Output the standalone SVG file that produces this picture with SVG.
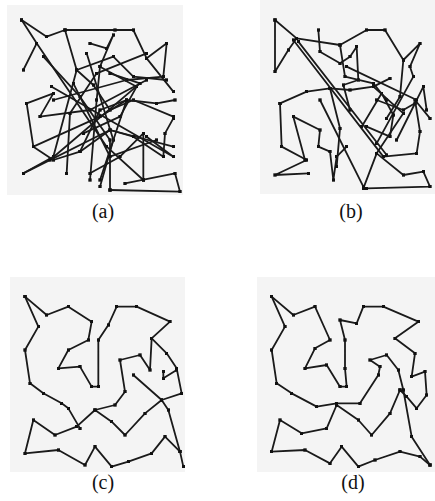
<svg xmlns="http://www.w3.org/2000/svg" width="435" height="501" viewBox="0 0 435 501">
<style>
.bg{fill:#f4f4f4}
.t path,.t polyline{fill:none;stroke:#1a1a1a;stroke-width:5.4;stroke-linejoin:round;stroke-linecap:round;marker-start:url(#v);marker-mid:url(#v);marker-end:url(#v)}
.lbl{font-family:"Liberation Serif","Times New Roman",serif;font-size:20px;fill:#111;text-anchor:middle}
</style>
<defs>
<marker id="v" markerUnits="userSpaceOnUse" viewBox="-5 -5 10 10" markerWidth="10" markerHeight="10" refX="0" refY="0">
<rect x="-5" y="-5" width="10" height="10" fill="#111"/>
</marker>
</defs>
<rect width="435" height="501" fill="#fff"/>
<rect class="bg" x="7" y="5" width="176" height="190"/>
<rect class="bg" x="260" y="0" width="175" height="194"/>
<rect class="bg" x="10" y="277" width="175" height="195"/>
<rect class="bg" x="257" y="277" width="178" height="195"/>

<g id="panel-a" class="t" transform="scale(0.33333)">
<polyline points="65,60 140,110 195,90 345,90 400,90 440,175 520,275"/>
<polyline points="65,60 110,130 70,210"/>
<polyline points="110,130 320,440 430,540"/>
<polyline points="195,90 230,210 280,255 330,330 400,300 520,350"/>
<polyline points="270,130 320,145 340,105 300,200 290,300 270,540"/>
<polyline points="440,175 500,130 490,230 380,240 160,300"/>
<polyline points="80,310 160,280 120,350 270,330 440,240"/>
<polyline points="80,310 100,440 160,480 240,455 330,390 520,440"/>
<polyline points="70,520 330,390 400,410 490,470 495,400 520,355"/>
<polyline points="70,520 160,470 230,210 340,170 400,230 500,240"/>
<polyline points="330,570 330,420 240,290 130,170"/>
<polyline points="375,550 525,520 540,575 330,570"/>
<polyline points="200,520 210,340 290,220 440,160"/>
<polyline points="430,540 430,400 360,470 270,520"/>
<polyline points="155,260 520,470 440,410"/>
<polyline points="300,200 410,260 360,350 250,400"/>
<polyline points="240,455 300,330 380,300 470,310 525,300"/>
<polyline points="260,160 340,420 300,560"/>
<polyline points="150,480 420,250 330,220"/>
<polyline points="220,250 330,470 470,420"/>
<polyline points="100,440 300,350 380,300 300,540"/>
</g>

<g id="panel-b" class="t" transform="translate(230,0) scale(0.33333)">
<polyline points="135,60 200,115 175,150 135,215 135,60"/>
<polyline points="200,115 330,135 410,90 465,90 520,180 570,130 540,200 550,230 440,430"/>
<polyline points="190,120 460,470 560,460 570,395 555,300 600,355"/>
<polyline points="265,90 270,155 330,190 360,170 380,140 385,240 340,255 360,330"/>
<polyline points="150,310 230,275 300,265 360,270 430,260 480,235"/>
<polyline points="150,310 155,440 230,480 135,525 235,520"/>
<polyline points="190,350 270,390 265,440 300,455 310,540 320,470 350,440"/>
<polyline points="400,565 440,460 520,525 580,515 600,560 410,565"/>
<polyline points="395,380 455,280 490,345 480,410 410,380"/>
<polyline points="520,180 510,290 470,355"/>
<polyline points="300,265 330,385 320,500"/>
<polyline points="440,300 520,330 555,310 580,260 590,330"/>
<polyline points="190,350 225,480"/>
<polyline points="330,135 345,230 430,250 470,300"/>
<polyline points="205,125 470,465"/>
<polyline points="270,300 400,560"/>
<polyline points="430,260 520,340 440,460"/>
<polyline points="350,200 560,300 500,420"/>
</g>

<g id="panel-c" class="t" transform="translate(0,250) scale(0.33333)">
<polyline points="75,140 140,195 205,170 275,215 265,270 205,300 175,355 240,350 275,410 295,410 295,270 325,225 350,170 410,170 510,215 455,265 500,310 530,355 545,430 485,450 505,480 540,605 550,650"/>
<polyline points="455,265 450,360 420,315 360,330 375,425 345,465 285,480 230,530 165,555 100,510 75,610 175,600 255,645 285,590 335,650 385,635 455,610 495,560 540,605"/>
<polyline points="75,140 115,230 75,300 90,400 130,430 185,460 205,475 240,535"/>
<polyline points="285,480 335,515 375,555 435,490 485,450 400,375"/>
<polyline points="490,365 490,385 530,360"/>
</g>

<g id="panel-d" class="t" transform="translate(230,250) scale(0.33333)">
<polyline points="125,140 190,195 255,170 300,270 255,295 225,355 290,345 330,410 350,410 345,355 345,270 330,210 380,220 400,170 460,170 565,215 495,265 555,310 545,380 585,365 590,435 560,475 530,440 510,420"/>
<polyline points="125,140 165,230 125,300 140,400 185,430 260,470 320,460 390,460 445,375 450,350 420,330 470,315 505,360 520,420 545,560 600,645"/>
<polyline points="320,465 385,510 425,555 480,490 510,420"/>
<polyline points="600,645 570,620 510,605 435,630 385,650 335,590 300,640 225,600 125,605 150,510 215,550 290,535 320,465"/>
</g>

<text class="lbl" x="103" y="218">(a)</text>
<text class="lbl" x="351" y="218">(b)</text>
<text class="lbl" x="103" y="489">(c)</text>
<text class="lbl" x="353" y="489">(d)</text>
</svg>
